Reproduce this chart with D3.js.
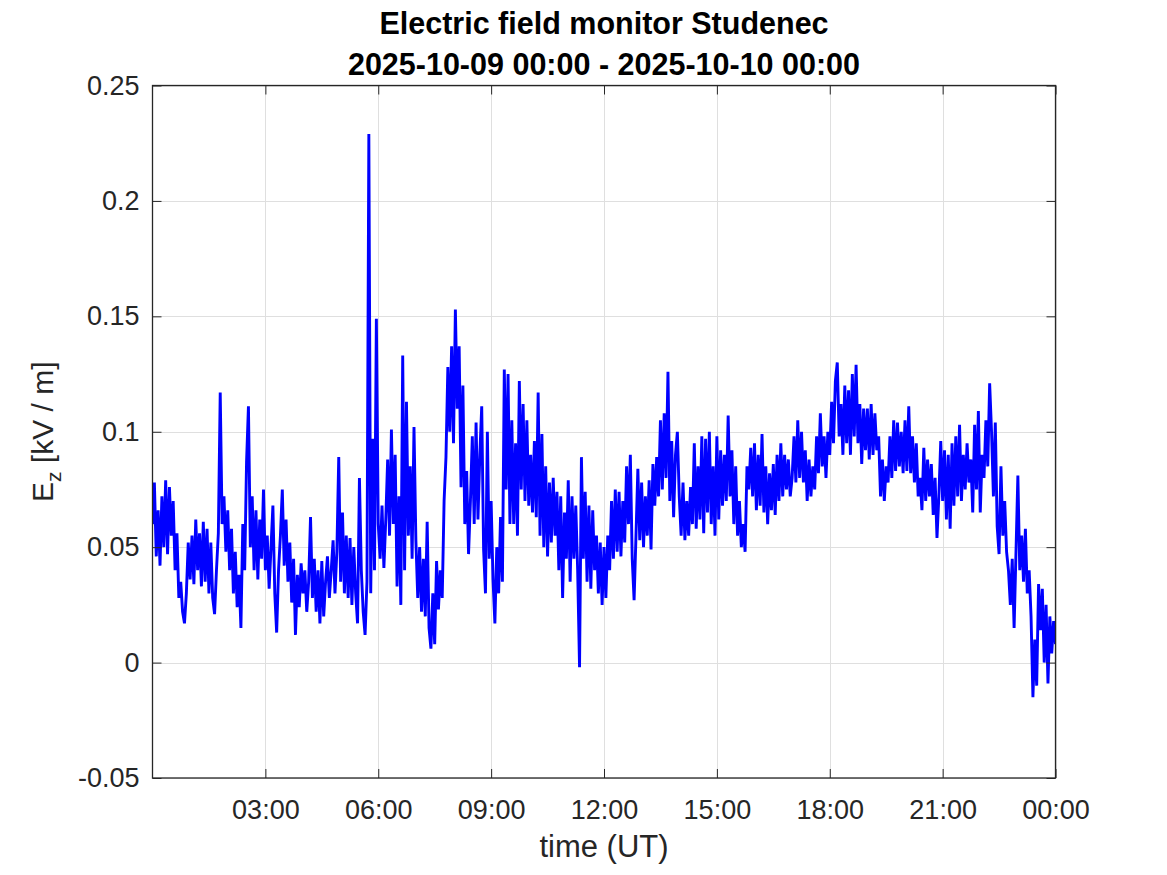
<!DOCTYPE html>
<html>
<head>
<meta charset="utf-8">
<script src="https://cdn.jsdelivr.net/npm/d3@7/dist/d3.min.js"></script>
<style>
  html, body { margin: 0; padding: 0; background: #ffffff; }
  svg { display: block; }
  text { font-family: "Liberation Sans", Arial, Helvetica, sans-serif; }
</style>
</head>
<body>
<svg id="chart" width="1167" height="875"></svg>
<script>
// ---- Data (kV/m), one sample every 3 minutes, 2025-10-09 00:00 UT ----
const titleLines = ["Electric field monitor Studenec", "2025-10-09 00:00 - 2025-10-10 00:00"];
const startUTC = Date.UTC(2025, 9, 9, 0, 0);
const endUTC = Date.UTC(2025, 9, 10, 0, 0);
const stepMinutes = 3;
const ezValues = [
  0.060,0.078,0.046,0.066,0.042,0.072,0.050,0.079,0.047,0.076,0.055,0.070,0.040,0.056,0.028,0.035,0.022,0.017,0.030,0.052,
  0.036,0.055,0.034,0.062,0.040,0.056,0.033,0.061,0.035,0.058,0.030,0.052,0.028,0.021,0.040,0.056,0.117,0.060,0.072,0.048,
  0.066,0.040,0.058,0.030,0.048,0.024,0.038,0.015,0.060,0.040,0.087,0.111,0.050,0.072,0.040,0.066,0.036,0.062,0.045,0.075,
  0.040,0.055,0.032,0.050,0.068,0.030,0.013,0.040,0.055,0.075,0.042,0.062,0.035,0.052,0.026,0.045,0.012,0.038,0.024,0.043,
  0.030,0.040,0.022,0.035,0.063,0.028,0.045,0.022,0.040,0.017,0.044,0.020,0.035,0.046,0.028,0.040,0.053,0.030,0.048,0.089,
  0.035,0.065,0.030,0.055,0.028,0.054,0.025,0.050,0.030,0.017,0.080,0.040,0.022,0.012,0.035,0.229,0.030,0.097,0.040,0.149,
  0.060,0.045,0.068,0.041,0.062,0.088,0.055,0.101,0.060,0.090,0.033,0.072,0.025,0.133,0.040,0.113,0.055,0.085,0.045,0.102,
  0.053,0.028,0.050,0.022,0.045,0.020,0.061,0.015,0.006,0.030,0.008,0.044,0.023,0.040,0.028,0.070,0.089,0.128,0.100,0.137,
  0.095,0.153,0.110,0.137,0.076,0.120,0.060,0.083,0.047,0.070,0.098,0.060,0.104,0.062,0.090,0.111,0.049,0.030,0.100,0.045,
  0.070,0.036,0.017,0.050,0.030,0.063,0.035,0.127,0.075,0.125,0.060,0.105,0.060,0.095,0.055,0.122,0.075,0.112,0.070,0.105,
  0.068,0.090,0.065,0.096,0.063,0.117,0.055,0.099,0.050,0.085,0.046,0.078,0.052,0.080,0.055,0.074,0.040,0.072,0.028,0.065,
  0.045,0.079,0.035,0.072,0.045,0.068,0.040,-0.002,0.089,0.045,0.074,0.035,0.068,0.032,0.066,0.040,0.055,0.030,0.052,0.025,
  0.050,0.028,0.055,0.040,0.070,0.045,0.075,0.048,0.074,0.046,0.070,0.052,0.085,0.060,0.090,0.045,0.027,0.055,0.084,0.053,
  0.078,0.050,0.072,0.055,0.079,0.049,0.086,0.068,0.089,0.072,0.105,0.075,0.108,0.080,0.126,0.070,0.096,0.063,0.090,0.100,
  0.072,0.055,0.078,0.053,0.070,0.055,0.076,0.060,0.095,0.058,0.085,0.062,0.098,0.056,0.097,0.065,0.100,0.060,0.085,0.055,
  0.098,0.062,0.092,0.068,0.090,0.070,0.107,0.072,0.092,0.060,0.085,0.055,0.070,0.050,0.060,0.048,0.085,0.075,0.093,0.072,
  0.095,0.066,0.090,0.068,0.099,0.065,0.085,0.060,0.082,0.066,0.086,0.064,0.090,0.070,0.095,0.072,0.090,0.075,0.088,0.072,
  0.080,0.098,0.078,0.105,0.080,0.100,0.078,0.092,0.070,0.088,0.072,0.085,0.075,0.098,0.082,0.108,0.085,0.098,0.080,0.100,
  0.090,0.113,0.095,0.122,0.130,0.098,0.112,0.090,0.120,0.095,0.118,0.090,0.125,0.098,0.129,0.095,0.112,0.086,0.110,0.092,
  0.110,0.088,0.112,0.090,0.108,0.092,0.098,0.072,0.088,0.070,0.085,0.078,0.098,0.080,0.105,0.083,0.104,0.085,0.100,0.082,
  0.105,0.083,0.111,0.082,0.098,0.078,0.095,0.072,0.080,0.066,0.093,0.070,0.088,0.072,0.086,0.064,0.080,0.054,0.072,0.096,
  0.070,0.092,0.062,0.090,0.058,0.095,0.068,0.098,0.072,0.103,0.070,0.090,0.075,0.095,0.078,0.088,0.065,0.103,0.075,0.109,
  0.065,0.090,0.080,0.105,0.085,0.121,0.100,0.072,0.104,0.059,0.047,0.085,0.055,0.070,0.048,0.040,0.025,0.045,0.015,0.048,
  0.081,0.040,0.055,0.035,0.058,0.030,0.040,0.020,-0.015,0.010,-0.010,0.034,0.014,0.032,0.000,0.025,-0.009,0.020,0.004,0.018,
  0.008
];
const xTickHours = [3, 6, 9, 12, 15, 18, 21, 24];
const xTickLabels = ["03:00", "06:00", "09:00", "12:00", "15:00", "18:00", "21:00", "00:00"];
const yTickValues = [-0.05, 0, 0.05, 0.1, 0.15, 0.2, 0.25];
const yTickLabels = ["-0.05", "0", "0.05", "0.1", "0.15", "0.2", "0.25"];
const xLabelText = "time (UT)";

(function () {
  // ---- Layout ----
  const pLeft = 152.5, pRight = 1055.5, pTop = 85.5, pBottom = 778;
  const axisColor = "#262626";
  const gridColor = "#dfdfdf";
  const tickLen = 9;

  const svg = d3.select("#chart");
  const x = d3.scaleUtc().domain([new Date(startUTC), new Date(endUTC)]).range([pLeft, pRight]);
  const y = d3.scaleLinear().domain([-0.05, 0.25]).range([pBottom, pTop]);

  const points = ezValues.map((v, i) => ({ t: new Date(startUTC + i * stepMinutes * 60000), v }));
  const xTickDates = xTickHours.map(h => new Date(startUTC + h * 3600000));

  // Grid
  const grid = svg.append("g");
  grid.selectAll("line.gx").data(xTickDates).join("line")
    .attr("x1", d => Math.round(x(d)) + 0.5).attr("x2", d => Math.round(x(d)) + 0.5)
    .attr("y1", pTop).attr("y2", pBottom)
    .attr("stroke", gridColor).attr("stroke-width", 1);
  grid.selectAll("line.gy").data(yTickValues).join("line")
    .attr("y1", d => Math.round(y(d)) + 0.5).attr("y2", d => Math.round(y(d)) + 0.5)
    .attr("x1", pLeft).attr("x2", pRight)
    .attr("stroke", gridColor).attr("stroke-width", 1);

  // Data line
  svg.append("clipPath").attr("id", "plotclip").append("rect")
    .attr("x", pLeft).attr("y", pTop).attr("width", pRight - pLeft).attr("height", pBottom - pTop);
  const line = d3.line().x(d => x(d.t)).y(d => y(d.v));
  svg.append("path").datum(points)
    .attr("clip-path", "url(#plotclip)")
    .attr("d", line)
    .attr("fill", "none")
    .attr("stroke", "#0000ff")
    .attr("stroke-width", 2.9)
    .attr("stroke-linejoin", "miter")
    .attr("stroke-miterlimit", 1.5);

  // Axes
  function styleAxis(g) {
    g.select(".domain").remove();
    g.selectAll(".tick line").attr("stroke", axisColor).attr("stroke-width", 1);
    g.selectAll(".tick text").attr("fill", axisColor).style("font-size", "27px")
      .style("font-family", "'Liberation Sans', Arial, Helvetica, sans-serif");
  }
  const fmtX = (d, i) => xTickLabels[i];
  const fmtY = (d, i) => yTickLabels[i];

  const gxb = svg.append("g").attr("transform", `translate(0,${pBottom})`)
    .call(d3.axisBottom(x).tickValues(xTickDates).tickFormat(fmtX).tickSizeInner(-tickLen).tickSizeOuter(0).tickPadding(22));
  styleAxis(gxb);
  const gxt = svg.append("g").attr("transform", `translate(0,${pTop})`)
    .call(d3.axisTop(x).tickValues(xTickDates).tickFormat("").tickSizeInner(-tickLen).tickSizeOuter(0));
  styleAxis(gxt);
  const gyl = svg.append("g").attr("transform", `translate(${pLeft},0)`)
    .call(d3.axisLeft(y).tickValues(yTickValues).tickFormat(fmtY).tickSizeInner(-tickLen).tickSizeOuter(0).tickPadding(13));
  styleAxis(gyl);
  const gyr = svg.append("g").attr("transform", `translate(${pRight},0)`)
    .call(d3.axisRight(y).tickValues(yTickValues).tickFormat("").tickSizeInner(-tickLen).tickSizeOuter(0));
  styleAxis(gyr);

  // Box
  svg.append("rect").attr("x", pLeft).attr("y", pTop)
    .attr("width", pRight - pLeft).attr("height", pBottom - pTop)
    .attr("fill", "none").attr("stroke", axisColor).attr("stroke-width", 1.3);

  // Title
  const cx = (pLeft + pRight) / 2;
  svg.append("text").attr("x", cx).attr("y", 34).attr("text-anchor", "middle")
    .style("font-size", "30.5px").style("font-weight", "bold").attr("fill", "#000")
    .text(titleLines[0]);
  svg.append("text").attr("x", cx).attr("y", 75).attr("text-anchor", "middle")
    .style("font-size", "30.5px").style("font-weight", "bold").attr("fill", "#000")
    .text(titleLines[1]);

  // X label
  svg.append("text").attr("x", cx).attr("y", 857).attr("text-anchor", "middle")
    .style("font-size", "31px").attr("fill", axisColor).text(xLabelText);

  // Y label
  const yl = svg.append("text")
    .attr("transform", `translate(53,${(pTop + pBottom) / 2}) rotate(-90)`)
    .attr("text-anchor", "middle").style("font-size", "30px").attr("fill", axisColor);
  yl.append("tspan").text("E");
  yl.append("tspan").attr("dy", 8).style("font-size", "21px").text("z");
  yl.append("tspan").attr("dy", -8).text(" [kV / m]");
})();
</script>
</body>
</html>
